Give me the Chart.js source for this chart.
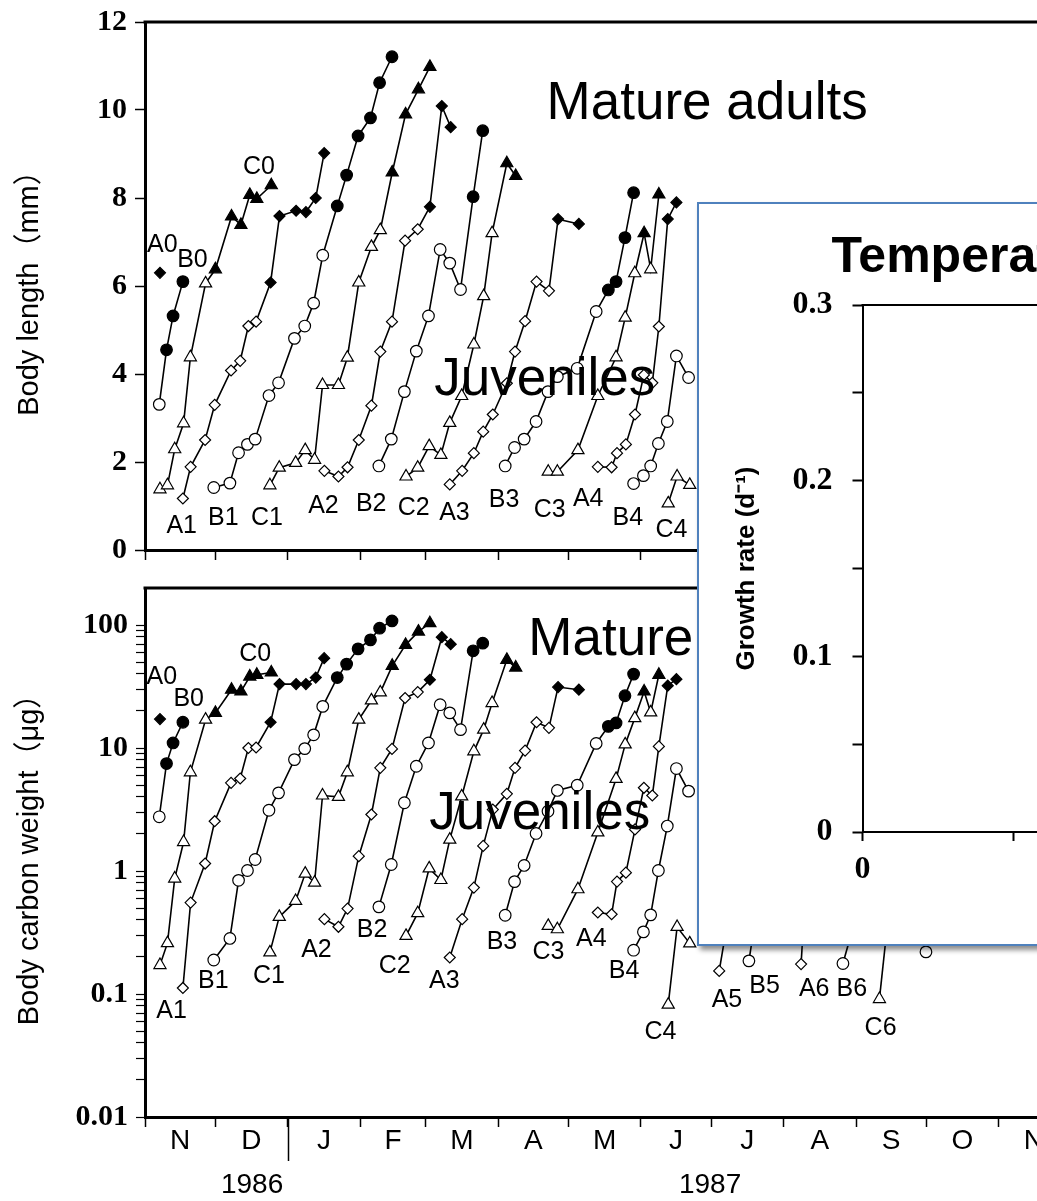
<!DOCTYPE html>
<html>
<head>
<meta charset="utf-8">
<script src="https://cdn.jsdelivr.net/npm/chart.js@4.4.1/dist/chart.umd.min.js"></script>
<style>
  html, body { margin: 0; padding: 0; width: 1037px; height: 1201px; overflow: hidden; background: #fff; }
  #topChart { position: absolute; left: 0; top: 0; }
  #bottomChart { position: absolute; left: 0; top: 560px; }
  #inset {
    position: absolute; left: 697px; top: 202px; width: 480px; height: 744px;
    box-sizing: border-box; border: 2px solid #4f81bd; background: #fff;
    box-shadow: 3px 4px 5px rgba(0, 0, 0, 0.45);
  }
  #insetChart { position: absolute; left: 0; top: 0; }
</style>
</head>
<body>
<canvas id="topChart" width="1100" height="575"></canvas>
<canvas id="bottomChart" width="1100" height="641"></canvas>
<div id="inset"><canvas id="insetChart" width="476" height="740"></canvas></div>
<script>
// ----------------------------------------------------------------------------
// Cohort growth, Nov 1986 - Nov 1987. x = days since 1 Nov 1986.
// len = body length (mm), wt = body carbon weight (ug), adult = 1 for mature (filled) samples.
// null = not shown in that panel.
// ----------------------------------------------------------------------------
const A0_day = [6.4];
const A0_len = [6.3];
const A0_wt = [17.2];
const A0_adult = [1];

const B0_day = [6.1, 9.2, 12.0, 16.2];
const B0_len = [3.31, 4.55, 5.32, 6.10];
const B0_wt = [2.76, 7.47, 11.0, 16.2];
const B0_adult = [0, 1, 1, 1];

const C0_day = [6.4, 9.6, 12.7, 16.5, 19.4, 25.9, 30.1, 37.0, 41.0, 44.8, 47.8, 54.0];
const C0_len = [1.38, 1.47, 2.29, 2.88, 4.38, 6.06, 6.38, 7.58, 7.39, 8.07, 7.98, 8.29];
const C0_wt = [0.172, 0.259, 0.868, 1.72, 6.35, 17.0, 19.3, 29.8, 28.8, 38.1, 39.4, 41.1];
const C0_adult = [0, 0, 0, 0, 0, 0, 1, 1, 1, 1, 1, 1];

const A1_day = [16.2, 19.5, 25.7, 29.8, 36.8, 40.7, 44.2, 47.5, 53.7, 57.5, 64.6, 68.8, 73.0, 76.6];
const A1_len = [1.17, 1.89, 2.50, 3.30, 4.08, 4.30, 5.09, 5.19, 6.08, 7.59, 7.71, 7.68, 8.00, 9.02];
const A1_wt = [0.112, 0.554, 1.15, 2.54, 5.21, 5.65, 10.0, 10.1, 16.2, 33.1, 33.1, 33.1, 37.4, 53.8];
const A1_adult = [0, 0, 0, 0, 0, 0, 0, 0, 1, 1, 1, 1, 1, 1];

const B1_day = [29.4, 36.3, 40.0, 43.8, 47.1, 53.0, 57.1, 63.9, 68.3, 72.1, 76.0, 82.2, 86.2, 91.1, 96.4, 100.3, 105.6];
const B1_len = [1.42, 1.52, 2.21, 2.40, 2.52, 3.51, 3.80, 4.81, 5.09, 5.61, 6.70, 7.82, 8.52, 9.41, 9.82, 10.62, 11.21];
const B1_wt = [0.189, 0.283, 0.84, 1.01, 1.24, 3.12, 4.32, 8.05, 9.89, 12.8, 21.8, 37.4, 48.1, 64.0, 75.7, 94.2, 108];
const B1_adult = [0, 0, 0, 0, 0, 0, 0, 0, 0, 0, 0, 1, 1, 1, 1, 1, 1];

const C1_day = [53.4, 57.4, 64.4, 68.5, 72.5, 75.9, 82.7, 86.5, 91.4, 96.8, 100.6, 105.7, 111.4, 116.9, 121.8];
const C1_len = [1.47, 1.87, 1.98, 2.27, 2.05, 3.75, 3.75, 4.37, 6.08, 6.89, 7.27, 8.58, 9.90, 10.47, 10.98];
const C1_wt = [0.218, 0.424, 0.571, 0.953, 0.805, 4.11, 4.01, 6.35, 17.0, 24.4, 28.3, 46.6, 69.0, 88.4, 103.5];
const C1_adult = [0, 0, 0, 0, 0, 0, 0, 0, 0, 0, 0, 1, 1, 1, 1];

const A2_day = [76.7, 82.7, 86.6, 91.4, 96.8, 100.6, 105.6, 111.2, 116.6, 121.8, 126.9, 130.7];
const A2_len = [1.80, 1.67, 1.88, 2.50, 3.28, 4.51, 5.19, 7.03, 7.29, 7.80, 10.09, 9.61];
const A2_wt = [0.406, 0.352, 0.495, 1.32, 2.88, 6.90, 9.84, 25.5, 28.5, 35.9, 79.6, 69.9];
const A2_adult = [0, 0, 0, 0, 0, 0, 0, 0, 0, 1, 1, 1];

const B2_day = [100.0, 105.3, 110.9, 116.0, 121.2, 126.2, 130.3, 134.9, 140.3, 144.4];
const B2_len = [1.91, 2.52, 3.60, 4.52, 5.32, 6.83, 6.52, 5.92, 8.03, 9.53];
const B2_wt = [0.511, 1.13, 3.59, 7.11, 11.0, 22.5, 19.3, 14.1, 61.7, 71.2];
const B2_adult = [0, 0, 0, 0, 0, 0, 0, 0, 1, 1];

const C2_day = [111.6, 116.6, 121.5, 126.5, 130.3, 135.4, 140.6, 144.8, 148.4, 154.7, 158.5];
const C2_len = [1.67, 1.87, 2.36, 2.16, 2.89, 3.50, 4.67, 5.77, 7.20, 8.79, 8.50];
const C2_wt = [0.297, 0.454, 1.05, 0.845, 1.80, 4.04, 9.40, 14.1, 23.2, 52.1, 45.1];
const C2_adult = [0, 0, 0, 0, 0, 0, 0, 0, 0, 1, 1];

const A3_day = [130.3, 135.6, 140.6, 144.6, 148.7, 154.7, 158.2, 162.5, 167.4, 172.7, 176.6, 185.5];
const A3_len = [1.49, 1.80, 2.20, 2.69, 3.08, 3.79, 4.51, 5.20, 6.10, 5.89, 7.52, 7.41];
const A3_wt = [0.198, 0.406, 0.733, 1.60, 3.16, 4.24, 6.90, 9.53, 16.2, 14.6, 31.3, 29.8];
const A3_adult = [0, 0, 0, 0, 0, 0, 0, 0, 0, 0, 1, 1];

const B3_day = [154.0, 158.0, 162.1, 167.2, 172.3, 176.3, 184.8, 192.9, 198.1, 201.4, 205.2, 208.9];
const B3_len = [1.91, 2.33, 2.52, 2.92, 3.60, 3.94, 4.13, 5.42, 5.91, 6.10, 7.10, 8.12];
const B3_wt = [0.437, 0.82, 1.11, 2.02, 3.06, 4.52, 4.98, 10.9, 15.0, 16.0, 26.6, 39.9];
const B3_adult = [0, 0, 0, 0, 0, 0, 0, 0, 1, 1, 1, 1];

const C3_day = [172.4, 176.3, 185.1, 193.6, 201.4, 205.3, 209.4, 213.4, 216.2, 219.7];
const C3_len = [1.78, 1.78, 2.27, 3.50, 4.38, 5.28, 6.29, 7.20, 6.38, 8.08];
const C3_wt = [0.358, 0.336, 0.711, 2.06, 5.61, 10.7, 17.5, 28.8, 19.5, 39.4];
const C3_adult = [0, 0, 0, 0, 0, 0, 0, 1, 0, 1];

const A4_day = [193.6, 199.5, 201.8, 205.6, 209.5, 213.3, 216.9, 219.7, 223.5, 227.2];
const A4_len = [1.89, 1.88, 2.20, 2.40, 3.08, 3.98, 3.80, 5.08, 7.52, 7.90];
const A4_wt = [0.46, 0.445, 0.82, 0.97, 2.18, 4.75, 4.11, 10.3, 32.1, 36.3];
const A4_adult = [0, 0, 0, 0, 0, 0, 0, 0, 1, 1];

const B4_day = [208.9, 213.1, 216.2, 219.5, 223.3, 227.2, 232.4];
const B4_len = [1.51, 1.69, 1.91, 2.42, 2.92, 4.41, 3.92];
const B4_wt = [0.227, 0.32, 0.44, 1.01, 2.32, 6.81, 4.46];
const B4_adult = [0, 0, 0, 0, 0, 0, 0];

const C4_day = [223.7, 227.5, 232.9];
const C4_len = [1.06, 1.67, 1.48];
const C4_wt = [0.0819, 0.351, 0.258];
const C4_adult = [0, 0, 0];

// later cohorts: only their first samples show below the inset
const A5_day = [245.5, 251.4];
const A5_wt = [0.154, 0.71];
const B5_day = [258.2, 262.3];
const B5_wt = [0.186, 0.59];
const A6_day = [280.5, 282.7];
const A6_wt = [0.175, 0.86];
const B6_day = [298.4, 307.3];
const B6_wt = [0.177, 0.71];
const C6_day = [314.0, 319.5];
const C6_wt = [0.091, 0.857];
const X_day = [333.9];
const X_wt = [0.22];

// month boundaries (days since 1 Nov 1986) and axis text
const monthStarts = [0, 30, 61, 92, 120, 151, 181, 212, 242, 273, 304, 334, 365, 395];
const monthNames = ['N', 'D', 'J', 'F', 'M', 'A', 'M', 'J', 'J', 'A', 'S', 'O', 'N'];
const yearNames = ['1986', '1987'];
const yearCentres = [45.8, 241.6];
const yearBreak = 61;

const lenTicks = [0, 2, 4, 6, 8, 10, 12];
const wtDecades = [0.01, 0.1, 1, 10, 100];

// cohort label anchors [text, day, value]
const lenLabels = [
  ['A0', 7.4, 6.93], ['B0', 20.3, 6.59], ['C0', 48.7, 8.70],
  ['A1', 15.7, 0.55], ['B1', 33.5, 0.73], ['C1', 52.1, 0.73],
  ['A2', 76.3, 1.00], ['B2', 96.7, 1.05], ['C2', 114.9, 0.95],
  ['A3', 132.3, 0.84], ['B3', 153.5, 1.14], ['C3', 173.0, 0.91],
  ['A4', 189.5, 1.16], ['B4', 206.4, 0.73], ['C4', 225.1, 0.45],
];
const wtLabels = [
  ['A0', 7.2, 37.9], ['B0', 18.7, 25.2], ['C0', 47.1, 58.3],
  ['A1', 11.4, 0.0728], ['B1', 29.2, 0.127], ['C1', 53.0, 0.14],
  ['A2', 73.3, 0.227], ['B2', 97.1, 0.331], ['C2', 106.8, 0.169],
  ['A3', 128.0, 0.127], ['B3', 152.6, 0.264], ['C3', 172.5, 0.219],
  ['A4', 190.8, 0.279], ['B4', 204.8, 0.154], ['C4', 220.4, 0.0492],
  ['A5', 248.8, 0.0894], ['B5', 264.9, 0.116], ['A6', 286.1, 0.11],
  ['B6', 302.2, 0.11], ['C6', 314.5, 0.053],
];

const SANS = "'Liberation Sans', Arial, 'Noto Sans CJK JP', sans-serif";
const SERIF = "'Liberation Serif', 'Times New Roman', serif";

// A = diamond, B = circle, C = triangle
const MARKERS = {
  A: { style: 'rectRot', radius: 5.5 },
  B: { style: 'circle', radius: 5.8 },
  C: { style: 'triangle', radius: 7 },
};

const cohorts = [
  ['A0', A0_day, A0_len, A0_wt, A0_adult],
  ['B0', B0_day, B0_len, B0_wt, B0_adult],
  ['C0', C0_day, C0_len, C0_wt, C0_adult],
  ['A1', A1_day, A1_len, A1_wt, A1_adult],
  ['B1', B1_day, B1_len, B1_wt, B1_adult],
  ['C1', C1_day, C1_len, C1_wt, C1_adult],
  ['A2', A2_day, A2_len, A2_wt, A2_adult],
  ['B2', B2_day, B2_len, B2_wt, B2_adult],
  ['C2', C2_day, C2_len, C2_wt, C2_adult],
  ['A3', A3_day, A3_len, A3_wt, A3_adult],
  ['B3', B3_day, B3_len, B3_wt, B3_adult],
  ['C3', C3_day, C3_len, C3_wt, C3_adult],
  ['A4', A4_day, A4_len, A4_wt, A4_adult],
  ['B4', B4_day, B4_len, B4_wt, B4_adult],
  ['C4', C4_day, C4_len, C4_wt, C4_adult],
  ['A5', A5_day, null, A5_wt, null],
  ['B5', B5_day, null, B5_wt, null],
  ['A6', A6_day, null, A6_wt, null],
  ['B6', B6_day, null, B6_wt, null],
  ['C6', C6_day, null, C6_wt, null],
  ['B?', X_day, null, X_wt, null],
];

function cohortDatasets(which) {
  const out = [];
  cohorts.forEach(([name, days, len, wt, adult]) => {
    const values = which === 'len' ? len : wt;
    if (!values) return;
    const pts = [];
    const fills = [];
    days.forEach((d, i) => {
      if (values[i] == null) return;
      pts.push({ x: d, y: values[i] });
      fills.push(adult && adult[i] ? '#000' : '#fff');
    });
    const marker = MARKERS[name[0]];
    out.push({
      label: name,
      data: pts,
      showLine: true,
      borderColor: '#000',
      borderWidth: 1.6,
      pointStyle: marker.style,
      pointRadius: marker.radius,
      pointBorderColor: '#000',
      pointBorderWidth: 1.2,
      pointBackgroundColor: fills,
    });
  });
  return out;
}

// top frame line (Excel draws a closed box round each panel)
const topFrame = {
  id: 'topFrame',
  afterDatasetsDraw(chart, args, opts) {
    const { ctx, chartArea } = chart;
    ctx.save();
    ctx.strokeStyle = '#000';
    ctx.lineWidth = opts.width;
    ctx.beginPath();
    ctx.moveTo(chartArea.left - opts.width / 2, chartArea.top);
    ctx.lineTo(chartArea.right, chartArea.top);
    ctx.stroke();
    ctx.restore();
  },
};

// text placed in data coordinates
const textMarks = {
  id: 'textMarks',
  afterDatasetsDraw(chart, args, opts) {
    const { ctx } = chart;
    const xs = chart.scales.x;
    const ys = chart.scales.y;
    ctx.save();
    ctx.fillStyle = '#000';
    (opts.items || []).forEach((it) => {
      ctx.font = it.font;
      ctx.textAlign = it.align || 'center';
      ctx.textBaseline = it.baseline || 'middle';
      ctx.fillText(it.text, xs.getPixelForValue(it.x), ys.getPixelForValue(it.y));
    });
    ctx.restore();
  },
};

// month letters between the month ticks, year names, long tick at the year break
const monthAxis = {
  id: 'monthAxis',
  afterDraw(chart) {
    const { ctx, chartArea } = chart;
    const xs = chart.scales.x;
    ctx.save();
    ctx.fillStyle = '#000';
    ctx.textAlign = 'center';
    ctx.textBaseline = 'middle';
    ctx.font = `28px ${SANS}`;
    monthNames.forEach((m, i) => {
      const mid = (monthStarts[i] + monthStarts[i + 1]) / 2;
      ctx.fillText(m, xs.getPixelForValue(mid), chartArea.bottom + 24);
    });
    yearNames.forEach((y, i) => {
      ctx.fillText(y, xs.getPixelForValue(yearCentres[i]), chartArea.bottom + 68);
    });
    const xb = Math.round(xs.getPixelForValue(yearBreak)) + 0.5;
    ctx.strokeStyle = '#000';
    ctx.lineWidth = 1.5;
    ctx.beginPath();
    ctx.moveTo(xb, chartArea.bottom);
    ctx.lineTo(xb, chartArea.bottom + 44);
    ctx.stroke();
    ctx.restore();
  },
};

function monthScale(height) {
  return {
    type: 'linear',
    min: 0,
    max: 404.8,
    afterBuildTicks: (s) => { s.ticks = monthStarts.map((v) => ({ value: v })); },
    afterFit: (s) => { s.height = height; },
    ticks: { autoSkip: false, callback: () => '' },
    grid: { drawOnChartArea: false, drawTicks: true, tickLength: 10, tickColor: '#000', tickWidth: 1.5 },
    border: { display: true, color: '#000', width: 3 },
  };
}

// fixed-width y axis; drop the label overhang so the layout padding sets the plot top
function fixedYAxis(width) {
  return (s) => {
    s.width = width;
    s.paddingTop = 0;
    s.paddingBottom = 0;
  };
}

const labelFont = `25px ${SANS}`;
const bigFont = `53px ${SANS}`;
const tickFont = { family: SERIF, size: 30, weight: 'bold' };
const axisTitleFont = { family: SANS, size: 29 };

// ---------------- top panel: body length ----------------
new Chart(document.getElementById('topChart'), {
  type: 'scatter',
  data: { datasets: cohortDatasets('len') },
  options: {
    responsive: false,
    animation: false,
    layout: { padding: { top: 22, left: 0, right: 0, bottom: 0 } },
    scales: {
      x: monthScale(25),
      y: {
        type: 'linear',
        min: 0,
        max: 12,
        afterBuildTicks: (s) => { s.ticks = lenTicks.map((v) => ({ value: v })); },
        afterFit: fixedYAxis(145),
        ticks: { autoSkip: false, padding: 8, color: '#000', font: tickFont },
        grid: { drawOnChartArea: false, tickLength: 10, tickColor: '#000', tickWidth: 1.5 },
        border: { display: true, color: '#000', width: 3 },
        title: {
          display: true,
          text: 'Body length（mm）',
          color: '#000',
          font: axisTitleFont,
          padding: { top: 13, bottom: 0 },
        },
      },
    },
    plugins: {
      legend: { display: false },
      tooltip: { enabled: false },
      topFrame: { width: 3 },
      textMarks: {
        items: [
          ...lenLabels.map(([t, x, y]) => ({ text: t, x, y, font: labelFont })),
          { text: 'Mature adults', x: 171.7, y: 9.79, font: bigFont, align: 'left', baseline: 'alphabetic' },
          { text: 'Juveniles', x: 123.7, y: 3.52, font: bigFont, align: 'left', baseline: 'alphabetic' },
        ],
      },
    },
  },
  plugins: [topFrame, textMarks],
});

// ---------------- bottom panel: body carbon weight (log) ----------------
const wtTickValues = [];
wtDecades.forEach((d, i) => {
  wtTickValues.push(d);
  if (i < wtDecades.length - 1) for (let k = 2; k <= 9; k++) wtTickValues.push(d * k);
});

new Chart(document.getElementById('bottomChart'), {
  type: 'scatter',
  data: { datasets: cohortDatasets('wt') },
  options: {
    responsive: false,
    animation: false,
    layout: { padding: { top: 28, left: 0, right: 0, bottom: 0 } },
    scales: {
      x: monthScale(84),
      y: {
        type: 'logarithmic',
        min: 0.01,
        max: 200,
        afterBuildTicks: (s) => { s.ticks = wtTickValues.map((v) => ({ value: v })); },
        afterFit: fixedYAxis(145),
        ticks: {
          autoSkip: false,
          padding: 8,
          color: '#000',
          font: tickFont,
          callback: (v) => (wtDecades.includes(v) ? String(v) : ''),
        },
        grid: { drawOnChartArea: false, tickLength: 9, tickColor: '#000', tickWidth: 1.2 },
        border: { display: true, color: '#000', width: 3 },
        title: {
          display: true,
          text: 'Body carbon weight（μg）',
          color: '#000',
          font: axisTitleFont,
          padding: { top: 13, bottom: 0 },
        },
      },
    },
    plugins: {
      legend: { display: false },
      tooltip: { enabled: false },
      topFrame: { width: 3 },
      textMarks: {
        items: [
          ...wtLabels.map(([t, x, y]) => ({ text: t, x, y, font: labelFont })),
          { text: 'Mature', x: 163.9, y: 57.2, font: bigFont, align: 'left', baseline: 'alphabetic' },
          { text: 'Juveniles', x: 121.5, y: 2.18, font: bigFont, align: 'left', baseline: 'alphabetic' },
        ],
      },
    },
  },
  plugins: [topFrame, textMarks, monthAxis],
});

// ---------------- inset: growth rate vs temperature (empty in view) ----------------
const rateTicks = [0, 0.05, 0.1, 0.15, 0.2, 0.25, 0.3];
const rateLabelled = [0, 0.1, 0.2, 0.3];
const tempTicks = [0, 5, 10];

const insetTitle = {
  id: 'insetTitle',
  afterDraw(chart, args, opts) {
    const { ctx } = chart;
    ctx.save();
    ctx.fillStyle = '#000';
    ctx.font = `bold 50px ${SANS}`;
    ctx.textAlign = 'left';
    ctx.textBaseline = 'alphabetic';
    ctx.fillText(opts.text, chart.chartArea.left - 31, chart.chartArea.top - 33);
    ctx.restore();
  },
};

new Chart(document.getElementById('insetChart'), {
  type: 'scatter',
  data: { datasets: [{ data: [], pointRadius: 0 }] },
  options: {
    responsive: false,
    animation: false,
    layout: { padding: { top: 101, left: 0, right: 0, bottom: 0 } },
    scales: {
      x: {
        type: 'linear',
        min: 0,
        max: 10,
        afterBuildTicks: (s) => { s.ticks = tempTicks.map((v) => ({ value: v })); },
        afterFit: (s) => { s.height = 112; },
        ticks: {
          autoSkip: false,
          padding: 10,
          color: '#000',
          font: { family: SERIF, size: 32, weight: 'bold' },
          callback: (v) => (v === 0 ? '0' : ''),
        },
        grid: { drawOnChartArea: false, tickLength: 9, tickColor: '#000', tickWidth: 2 },
        border: { display: true, color: '#000', width: 2 },
      },
      y: {
        type: 'linear',
        min: 0,
        max: 0.3,
        afterBuildTicks: (s) => { s.ticks = rateTicks.map((v) => ({ value: v })); },
        afterFit: fixedYAxis(163.5),
        ticks: {
          autoSkip: false,
          padding: 20,
          color: '#000',
          font: { family: SERIF, size: 32, weight: 'bold' },
          callback: (v) => (rateLabelled.some((r) => Math.abs(r - v) < 1e-9) ? (v === 0 ? '0' : v.toFixed(1)) : ''),
        },
        grid: { drawOnChartArea: false, tickLength: 10, tickColor: '#000', tickWidth: 2 },
        border: { display: true, color: '#000', width: 2 },
        title: {
          display: true,
          text: 'Growth rate (d⁻¹)',
          color: '#000',
          font: { family: SANS, size: 26, weight: 'bold' },
          padding: { top: 32, bottom: 0 },
        },
      },
    },
    plugins: {
      legend: { display: false },
      tooltip: { enabled: false },
      topFrame: { width: 2 },
      insetTitle: { text: 'Temperature' },
    },
  },
  plugins: [topFrame, insetTitle],
});
</script>
</body>
</html>
